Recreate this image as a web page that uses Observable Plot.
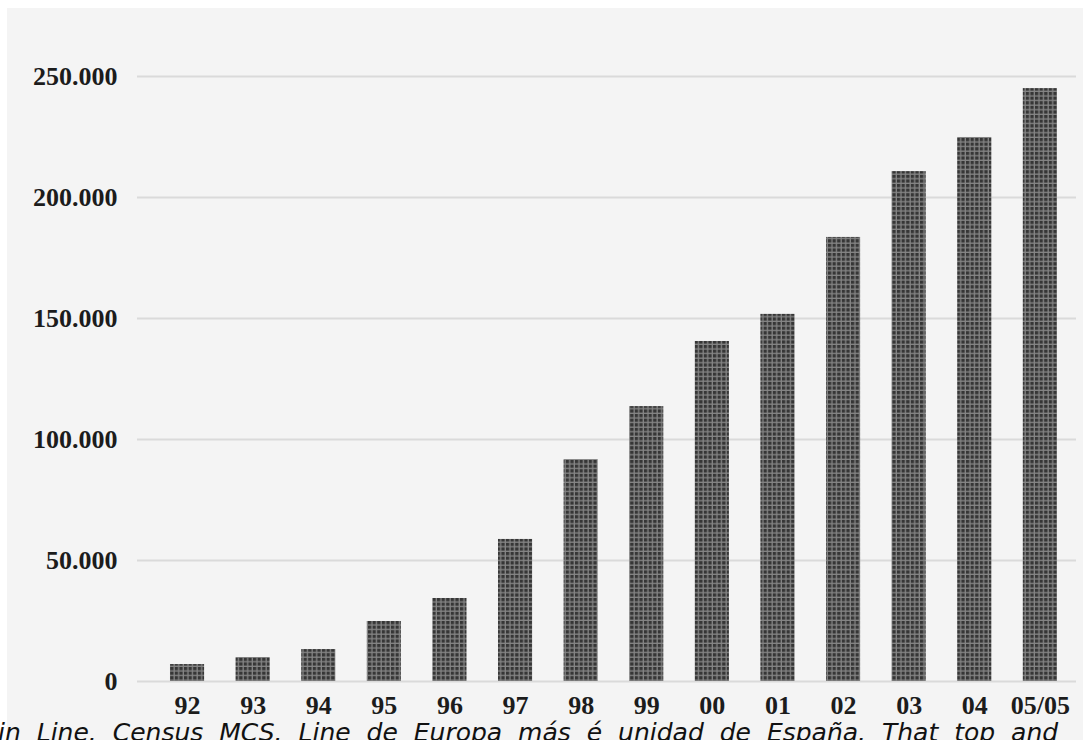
<!DOCTYPE html>
<html><head><meta charset="utf-8">
<script src="https://cdn.jsdelivr.net/npm/d3@7"></script>
<script src="https://cdn.jsdelivr.net/npm/@observablehq/plot@0.6"></script>
<style>
body{margin:0;background:#fff;overflow:hidden;width:1083px;height:740px}
#bg{position:absolute;left:7px;top:8px;width:1076px;height:732px;background:#f4f4f4}
#chart{position:absolute;left:0;top:0}
#caption{position:absolute;left:-2px;top:718px;font:italic 25px "DejaVu Sans",sans-serif;white-space:nowrap;color:#111;word-spacing:8px;line-height:30px}
</style></head><body>
<div id="bg"></div>
<div id="chart"></div>
<div id="caption">in Line. Census MCS. Line de Europa más é unidad de España. That top and</div>
<script>
const years = ["92","93","94","95","96","97","98","99","00","01","02","03","04","05/05"];
const values = [7000, 9900, 13200, 24800, 34300, 58700, 91700, 113600, 140500, 151700, 183500, 210700, 224800, 245000];
const yTicks = [0, 50000, 100000, 150000, 200000, 250000];

const data = years.map((year, i) => ({year, value: values[i]}));
const fmt = d3.formatLocale({decimal: ",", thousands: ".", grouping: [3], currency: ["", ""]}).format(",");

const plot = Plot.plot({
  width: 1083,
  height: 740,
  marginTop: 76,
  marginBottom: 59,
  marginLeft: 137,
  marginRight: 7,
  style: {background: "transparent", fontFamily: "'Liberation Serif', 'Times New Roman', serif", fontWeight: "bold", fontSize: "26px", color: "#1c1c1c"},
  x: {domain: years, range: [150.3, 1076.6], round: false, paddingInner: 0.48, paddingOuter: 0.3, label: null},
  y: {domain: [0, 250000], label: null},
  marks: [
    Plot.gridY(yTicks, {stroke: "#dadada", strokeOpacity: 1, strokeWidth: 2}),
    Plot.barY(data, {x: "year", y: "value", fill: "url(#checker)"}),
    Plot.axisY(yTicks, {tickSize: 0, tickPadding: 20, tickFormat: fmt, fontSize: 26, fontWeight: "bold", label: null}),
    Plot.axisX({tickSize: 0, tickPadding: 14, fontSize: 26, fontWeight: "bold", label: null})
  ]
});

const svg = d3.select(plot);
const pat = svg.insert("defs", ":first-child")
  .append("pattern")
  .attr("id", "checker")
  .attr("patternUnits", "userSpaceOnUse")
  .attr("width", 4.6).attr("height", 4.6);
pat.append("rect").attr("width", 4.6).attr("height", 4.6).attr("fill", "#858585");
pat.append("rect").attr("width", 3.3).attr("height", 3.3).attr("fill", "#363636");

document.getElementById("chart").appendChild(plot);
</script>
</body></html>
